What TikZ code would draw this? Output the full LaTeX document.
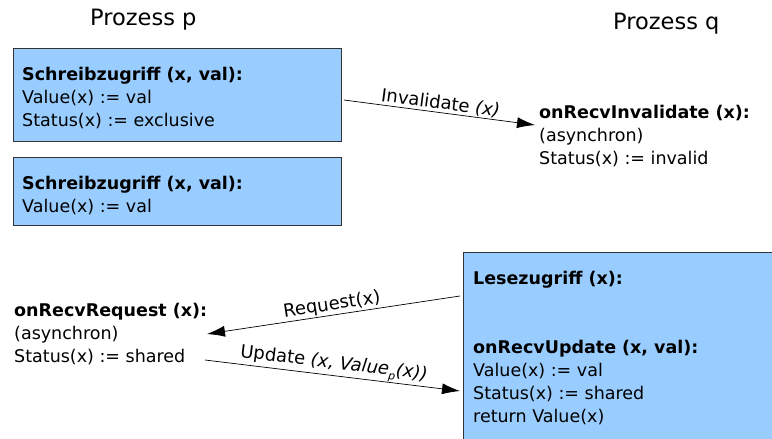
\documentclass[tikz,border=0pt]{standalone}
\usepackage{fontspec}
\setmainfont{DejaVu Sans}
\usetikzlibrary{arrows.meta,calc}
\definecolor{boxblue}{HTML}{99CCFF}
\definecolor{boxline}{HTML}{333333}
\tikzset{
  box/.style={draw=boxline, fill=boxblue, line width=0.8pt, anchor=north west, inner sep=0pt},
  txt/.style={anchor=north west, inner sep=0pt, align=left, font=\fontsize{17.5}{23}\selectfont},
  title/.style={anchor=base west, inner sep=0pt, font=\fontsize{22.5}{26}\selectfont},
  lbl/.style={inner sep=1pt, font=\fontsize{18}{21}\selectfont, sloped, above},
  msg/.style={-{Latex[length=18pt,width=11pt]}, line width=0.7pt}
}
\newcommand{\lowsub}[1]{\raisebox{-0.45ex}{\fontsize{11}{12}\selectfont #1}}
\begin{document}
\begin{tikzpicture}[x=1pt,y=-1pt]
\useasboundingbox (0,0) rectangle (772,439);
\clip (0,0) rectangle (772,439);

% process headings
\node[title] (hp) at (90,26) {Prozess p};
\node[title] (hq) at (613,30) {Prozess q};

% write accesses on p
\node[box, minimum width=328pt, minimum height=93pt] (w1) at (13,48) {};
\node[txt] (w1t) at (22,67) {\textbf{Schreibzugriff (x, val):}\\Value(x) := val\\Status(x) := exclusive};

\node[box, minimum width=328pt, minimum height=68pt] (w2) at (13,157) {};
\node[txt] (w2t) at (22,176) {\textbf{Schreibzugriff (x, val):}\\Value(x) := val};

% invalidate handler on q
\node[txt] (iq) at (539,105) {\textbf{onRecvInvalidate (x):}\\(asynchron)\\Status(x) := invalid};

% read access on q (runs past the right and bottom edges)
\node[box, minimum width=400pt, minimum height=260pt] (rd) at (463,252) {};
\node[txt] (rdt) at (473,271) {\textbf{Lesezugriff (x):}\\[46pt]\textbf{onRecvUpdate (x, val):}\\Value(x) := val\\Status(x) := shared\\return Value(x)};

% request handler on p
\node[txt] (rp) at (14,303) {\textbf{onRecvRequest (x):}\\(asynchron)\\Status(x) := shared};

% messages
\coordinate (a1) at ($(w1.north east)+(2,52)$);
\coordinate (b1) at ($(iq.north west)+(-4,20)$);
\draw[msg] (a1) -- node[lbl] {Invalidate \textit{(x)}} (b1);

\coordinate (a2) at ($(rd.north west)+(-3,44)$);
\coordinate (b2) at ($(rp.north west)+(193,31)$);
\draw[msg] (a2) -- node[lbl] {Request(x)} (b2);

\coordinate (a3) at ($(rp.north west)+(191,57)$);
\coordinate (b3) at ($(rd.north west)+(-3,139)$);
\draw[msg] (a3) -- node[lbl, inner sep=0pt] {Update \textit{(x, Value\lowsub{p}(x))}} (b3);
\end{tikzpicture}
\end{document}
